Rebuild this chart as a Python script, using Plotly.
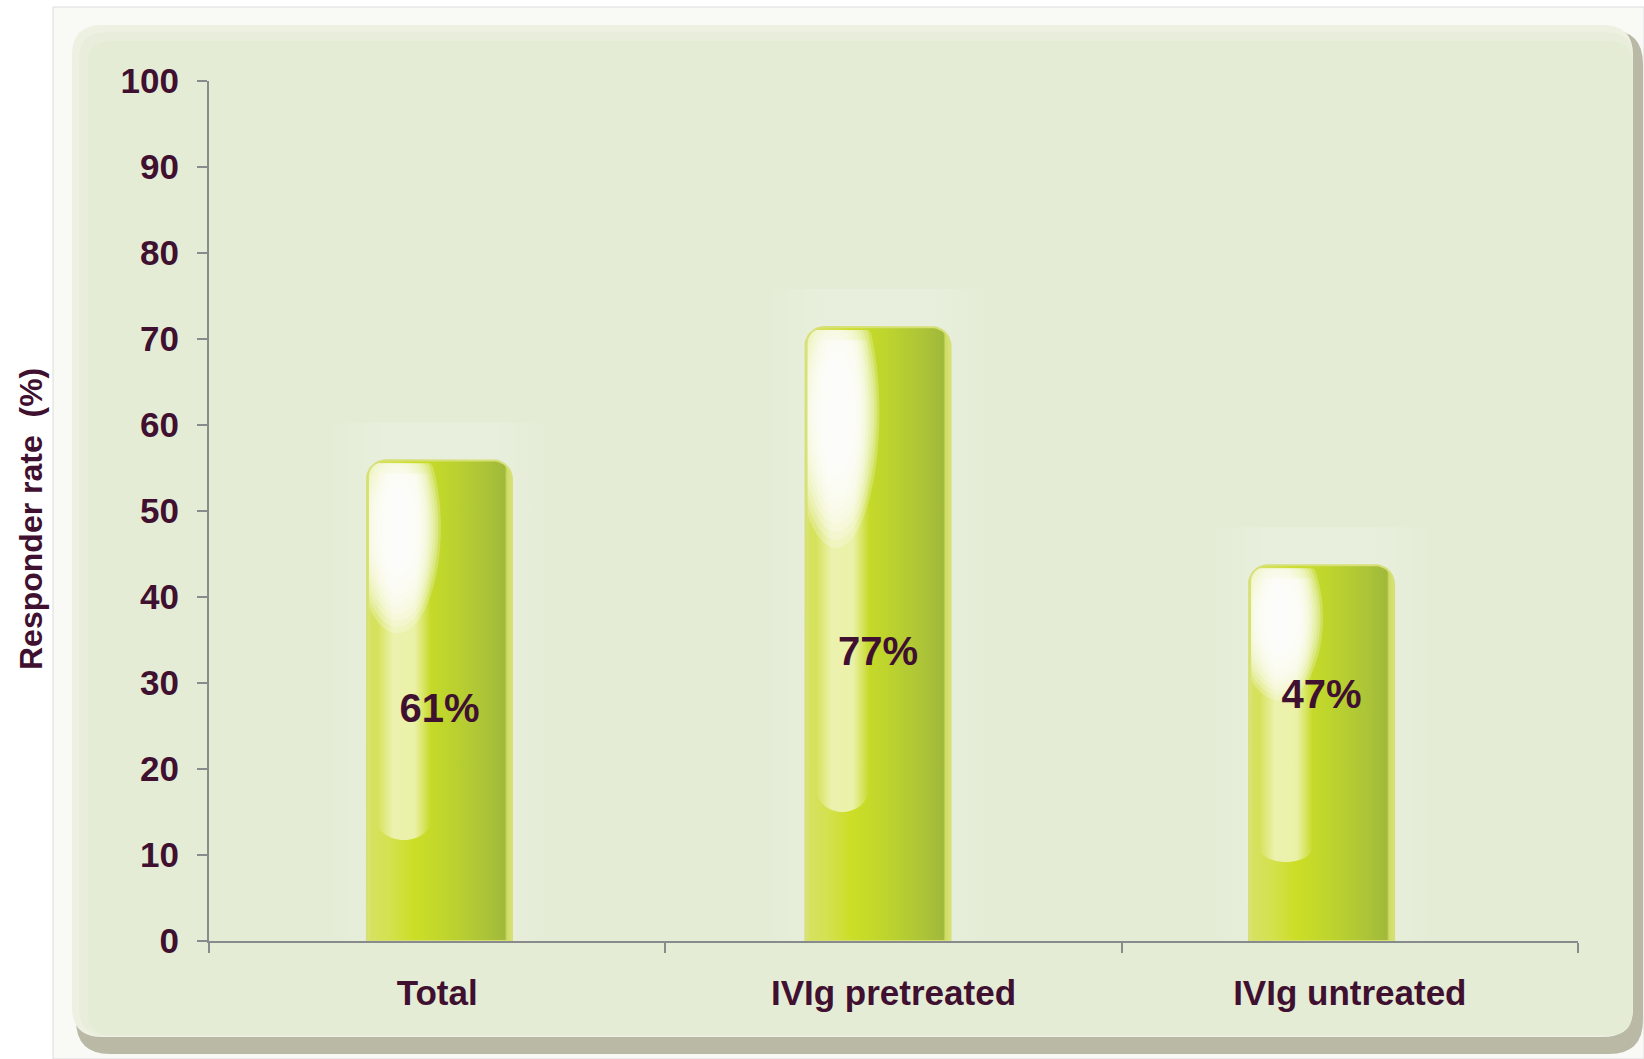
import numpy as np
import plotly.graph_objects as go

# ---------------- data ----------------
categories = ["Total", "IVIg pretreated", "IVIg untreated"]
bar_heights = [55.9, 71.4, 43.7]          # drawn height of each cylinder (axis units)
bar_labels = ["61%", "77%", "47%"]        # text printed inside the bars
label_levels = [26.6, 33.2, 28.2]         # vertical level of the in-bar text
y_tick_values = [0, 10, 20, 30, 40, 50, 60, 70, 80, 90, 100]
y_axis_title = "Responder rate  (%)"

# ---------------- style ----------------
W, H = 1644, 1059
PLOT_LEFT, PLOT_RIGHT = 209, 1578
PLOT_TOP, PLOT_BOTTOM = 81, 941
TEXT_COLOR = "#401030"
AXIS_COLOR = "#878b8b"
FONT = "Liberation Sans, Arial, Helvetica, sans-serif"
BAR_WIDTH = 0.318
BAR_SHIFT = [0.005, -0.034, -0.062]
CORNER_PX = 19

n_cat = len(categories)
px_per_x = (PLOT_RIGHT - PLOT_LEFT) / n_cat
px_per_y = (PLOT_BOTTOM - PLOT_TOP) / 100.0
rx_corner = CORNER_PX / px_per_x
ry_corner = CORNER_PX / px_per_y


def rounded_top_bar(xl, xr, top, base, rx, ry, n=12):
    xs, ys = [xl], [base]
    for t in np.linspace(np.pi, np.pi / 2, n):
        xs.append(xl + rx + rx * np.cos(t)); ys.append(top - ry + ry * np.sin(t))
    for t in np.linspace(np.pi / 2, 0, n):
        xs.append(xr - rx + rx * np.cos(t)); ys.append(top - ry + ry * np.sin(t))
    xs.append(xr); ys.append(base)
    xs.append(xl); ys.append(base)
    return xs, ys


def blob(cx, cy, rx, ry, xmin, ymax, corner_cx, corner_cy, crx, cry, n=72):
    t = np.linspace(0, 2 * np.pi, n)
    xs = np.maximum(cx + rx * np.cos(t), xmin)
    ys = np.minimum(cy + ry * np.sin(t), ymax)
    # keep inside the rounded top-left corner of the bar
    for k in range(n):
        if xs[k] < corner_cx and ys[k] > corner_cy:
            dx = (xs[k] - corner_cx) / crx
            dy = (ys[k] - corner_cy) / cry
            d = np.hypot(dx, dy)
            if d > 0.95:
                xs[k] = corner_cx + dx / d * 0.95 * crx
                ys[k] = corner_cy + dy / d * 0.95 * cry
    return list(xs), list(ys)


def stripe(xl, xr, top, bottom, ry, n=16):
    xs, ys = [xl, xr], [top, top]
    cx, rx = (xl + xr) / 2, (xr - xl) / 2
    for t in np.linspace(0, -np.pi, n):
        xs.append(cx + rx * np.cos(t)); ys.append(bottom + ry + ry * np.sin(t))
    xs.append(xl); ys.append(top)
    return xs, ys


body_scale = [
    [0.00, "rgb(220,228,125)"],
    [0.03, "rgb(214,226,95)"],
    [0.15, "rgb(212,225,80)"],
    [0.32, "rgb(204,222,38)"],
    [0.55, "rgb(190,213,45)"],
    [0.80, "rgb(173,197,55)"],
    [0.95, "rgb(160,185,58)"],
    [0.965, "rgb(205,220,100)"],
    [1.00, "rgb(216,226,122)"],
]
glow_scale = [[0, "rgba(255,255,255,0)"], [0.25, "rgba(255,255,255,0.14)"],
              [0.75, "rgba(255,255,255,0.14)"], [1, "rgba(255,255,255,0)"]]
stripe_scale = [[0, "rgba(242,246,200,0)"], [0.3, "rgba(242,246,200,0.8)"],
                [0.7, "rgba(242,246,200,0.8)"], [1, "rgba(242,246,200,0)"]]
BLOB_LAYERS = [(1.0 - 0.06 * k, 0.24) for k in range(11)]

fig = go.Figure()
centers = [i + 0.5 + BAR_SHIFT[i] for i in range(n_cat)]

for i, h in enumerate(bar_heights):
    c = centers[i]
    xl, xr = c - BAR_WIDTH / 2, c + BAR_WIDTH / 2
    w = xr - xl
    # soft glow panel behind the bar
    gx = [c - 0.25, c + 0.25, c + 0.25, c - 0.25, c - 0.25]
    gy = [0, 0, h + 4.4, h + 4.4, 0]
    fig.add_trace(go.Scatter(x=gx, y=gy, mode="none", fill="toself",
                             fillgradient=dict(type="horizontal", colorscale=glow_scale),
                             hoverinfo="skip", showlegend=False))
    # cylinder body
    bx, by = rounded_top_bar(xl, xr, h, 0, rx_corner, ry_corner)
    fig.add_trace(go.Scatter(x=bx, y=by, mode="lines", fill="toself",
                             line=dict(color="rgb(214,224,118)", width=2),
                             fillgradient=dict(type="horizontal", colorscale=body_scale),
                             hoverinfo="skip", showlegend=False))
    # pale vertical reflection
    sx, sy = stripe(xl + 0.07 * w, xl + 0.44 * w, h - 0.7 * ry_corner, 0.21 * h, 0.04 * h)
    fig.add_trace(go.Scatter(x=sx, y=sy, mode="none", fill="toself",
                             fillgradient=dict(type="horizontal", colorscale=stripe_scale),
                             hoverinfo="skip", showlegend=False))
    # bright glossy highlight: nested translucent ellipses
    for scale, alpha in BLOB_LAYERS:
        ex, ey = blob(xl + 0.21 * w, h - 0.14 * h, 0.3 * w * scale, 0.22 * h * scale,
                      xl + 0.015 * w, h - 0.35,
                      xl + rx_corner, h - ry_corner, rx_corner, ry_corner)
        fig.add_trace(go.Scatter(x=ex, y=ey, mode="none", fill="toself",
                                 fillcolor=f"rgba(255,255,255,{alpha})",
                                 hoverinfo="skip", showlegend=False))

fig.add_trace(go.Scatter(
    x=centers, y=label_levels, mode="text", text=bar_labels,
    textfont=dict(family=FONT, size=40, color=TEXT_COLOR, weight="bold"),
    hoverinfo="skip", showlegend=False))


# ---------------- background panel shapes ----------------
def px_x(v):
    return v / W


def px_y(v):
    return 1 - v / H


def rr_path(x0, y0, x1, y1, r):
    p = [
        f"M {px_x(x0 + r)},{px_y(y0)}",
        f"L {px_x(x1 - r)},{px_y(y0)}",
        f"Q {px_x(x1)},{px_y(y0)} {px_x(x1)},{px_y(y0 + r)}",
        f"L {px_x(x1)},{px_y(y1 - r)}",
        f"Q {px_x(x1)},{px_y(y1)} {px_x(x1 - r)},{px_y(y1)}",
        f"L {px_x(x0 + r)},{px_y(y1)}",
        f"Q {px_x(x0)},{px_y(y1)} {px_x(x0)},{px_y(y1 - r)}",
        f"L {px_x(x0)},{px_y(y0 + r)}",
        f"Q {px_x(x0)},{px_y(y0)} {px_x(x0 + r)},{px_y(y0)}",
        "Z",
    ]
    return " ".join(p)


shapes = [
    dict(type="rect", xref="paper", yref="paper", x0=px_x(53), x1=1.0, y0=0.0, y1=px_y(7),
         fillcolor="#f9faf5", line=dict(color="#dcdcdc", width=1), layer="below"),
    dict(type="path", xref="paper", yref="paper", path=rr_path(76, 30, 1643, 1054, 34),
         fillcolor="#b9b9a6", line=dict(width=0), layer="below"),
    dict(type="path", xref="paper", yref="paper", path=rr_path(72, 25, 1633, 1037, 30),
         fillcolor="#eef1e2", line=dict(width=0), layer="below"),
    dict(type="path", xref="paper", yref="paper", path=rr_path(79, 32, 1633, 1036, 27),
         fillcolor="#e9eedc", line=dict(width=0), layer="below"),
    dict(type="path", xref="paper", yref="paper", path=rr_path(88, 41, 1632, 1035, 22),
         fillcolor="#e4ecd6", line=dict(width=0), layer="below"),
]

tick_font = dict(family=FONT, size=35, color=TEXT_COLOR, weight="bold")
cat_font = dict(family=FONT, size=35, color=TEXT_COLOR, weight="bold")

fig.update_layout(
    width=W, height=H,
    margin=dict(l=0, r=0, t=0, b=0, pad=0),
    paper_bgcolor="white",
    plot_bgcolor="rgba(0,0,0,0)",
    template="none",
    showlegend=False,
    shapes=shapes,
    xaxis=dict(
        domain=[PLOT_LEFT / W, PLOT_RIGHT / W], range=[0, n_cat], automargin=False,
        tickmode="array", tickvals=[i + 0.5 for i in range(n_cat)], ticktext=categories,
        ticks="", tickfont=cat_font, ticklabelstandoff=20,
        minor=dict(tickmode="array", tickvals=list(range(n_cat + 1)), ticks="outside",
                   ticklen=10, tickwidth=2, tickcolor=AXIS_COLOR, showgrid=False),
        showline=True, linecolor=AXIS_COLOR, linewidth=2,
        showgrid=False, zeroline=False, fixedrange=True,
    ),
    yaxis=dict(
        domain=[1 - PLOT_BOTTOM / H, 1 - PLOT_TOP / H], range=[0, 100], automargin=False,
        tickmode="array", tickvals=y_tick_values, ticks="outside", ticklen=10,
        tickwidth=2, tickcolor=AXIS_COLOR, tickfont=tick_font, ticklabelstandoff=11,
        showline=True, linecolor=AXIS_COLOR, linewidth=2,
        showgrid=False, zeroline=False, fixedrange=True,
    ),
    annotations=[dict(
        text=y_axis_title, xref="paper", yref="paper", x=px_x(31), y=px_y(519),
        xanchor="center", yanchor="middle", textangle=-90, showarrow=False,
        font=dict(family=FONT, size=32, color=TEXT_COLOR, weight="bold"),
    )],
)

fig.write_html("out.html")
